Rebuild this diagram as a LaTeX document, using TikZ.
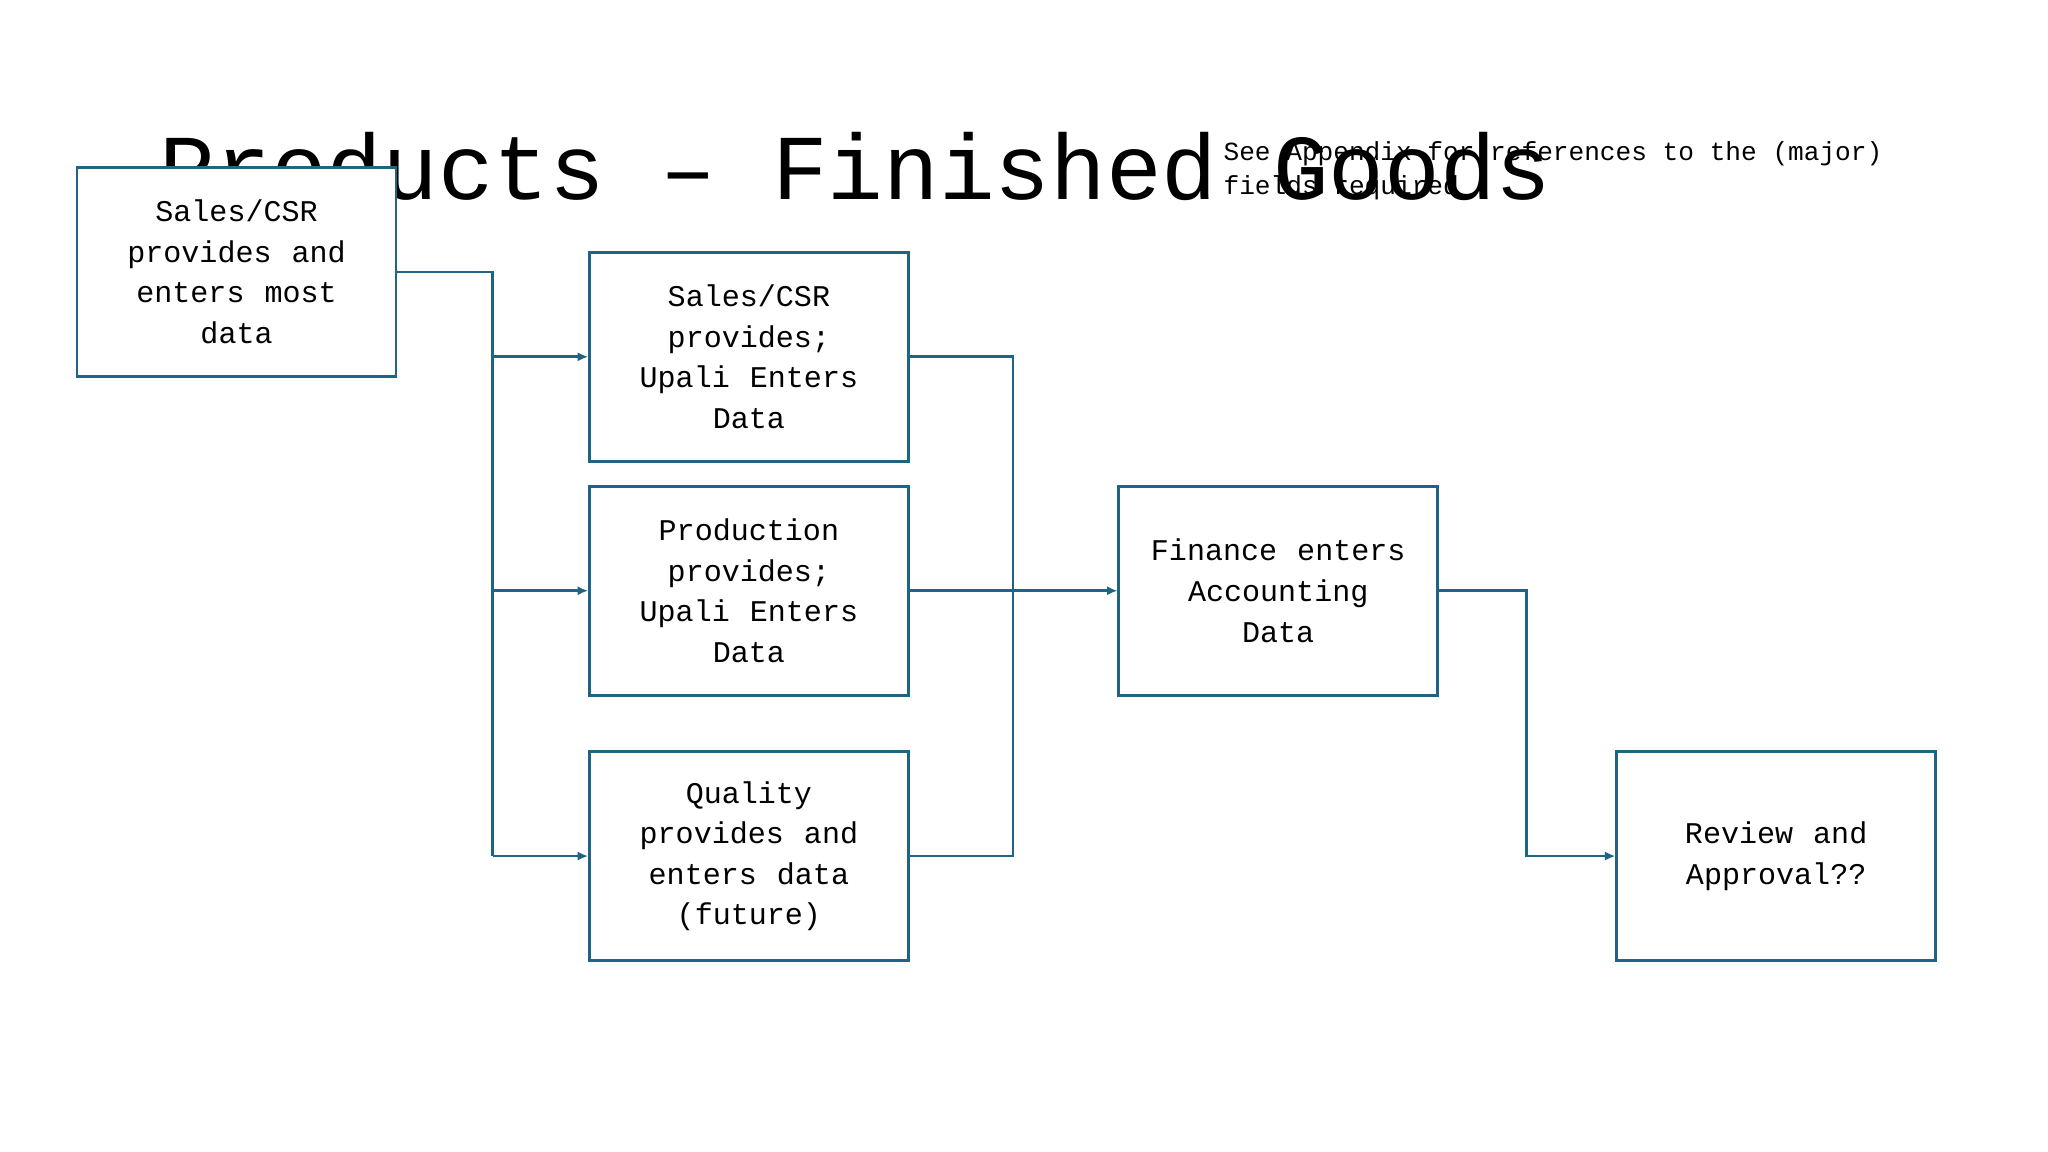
\documentclass[tikz,border=0pt]{standalone}
\usepackage{fontspec}
\setmainfont{Liberation Mono}[WordSpace={1,0,0}]
\usetikzlibrary{arrows.meta}
\definecolor{bc}{HTML}{1F6482}
\begin{document}
\begin{tikzpicture}[x=1pt,y=-1pt,
 bx/.style={draw=bc,line width=2pt,fill=white,minimum width=244pt,minimum height=160pt,align=center,font=\fontsize{23}{31}\selectfont,text width=236pt},
 ln/.style={draw=bc,line width=2pt},
 ar/.style={ln,-{Latex[length=8pt,width=7pt]}}]
\useasboundingbox (0,0) rectangle (1567,881);
\node[anchor=base west,font=\fontsize{71}{71}\selectfont,inner sep=0] (t) at (122,153) {Products – Finished Goods};
\node[bx] (a) at (181,208) {Sales/CSR\\provides\ \ and\\enters\ \ most\\data};
\node[bx] (b) at (573,273) {Sales/CSR\\provides;\\Upali\ \ Enters\\Data};
\node[bx] (c) at (573,452) {Production\\provides;\\Upali\ \ Enters\\Data};
\node[bx] (d) at (573,655) {Quality\\provides\ \ and\\enters\ \ data\\(future)};
\node[bx] (e) at (978,452) {Finance\ \ enters\\Accounting\\Data};
\node[bx] (f) at (1359,655) {Review\ \ and\\Approval??};
\node[anchor=north west,font=\fontsize{20}{26}\selectfont,inner sep=0,align=left] (n) at (936,108) {See Appendix for references to the (major)\\fields required};
\coordinate (j1) at (377,208);
\coordinate (j3) at (1168,452);
\draw[ln] (a.east) -- (j1) -- (377,655);
\draw[ar] (377,273) -- (b.west);
\draw[ar] (377,452) -- (c.west);
\draw[ar] (377,655) -- (d.west);
\draw[ln] (b.east) -- (775,273) -- (775,655) -- (d.east);
\draw[ar] (c.east) -- (e.west);
\draw[ar] (e.east) -- (j3) -- (1168,655) -- (f.west);
\end{tikzpicture}
\end{document}
